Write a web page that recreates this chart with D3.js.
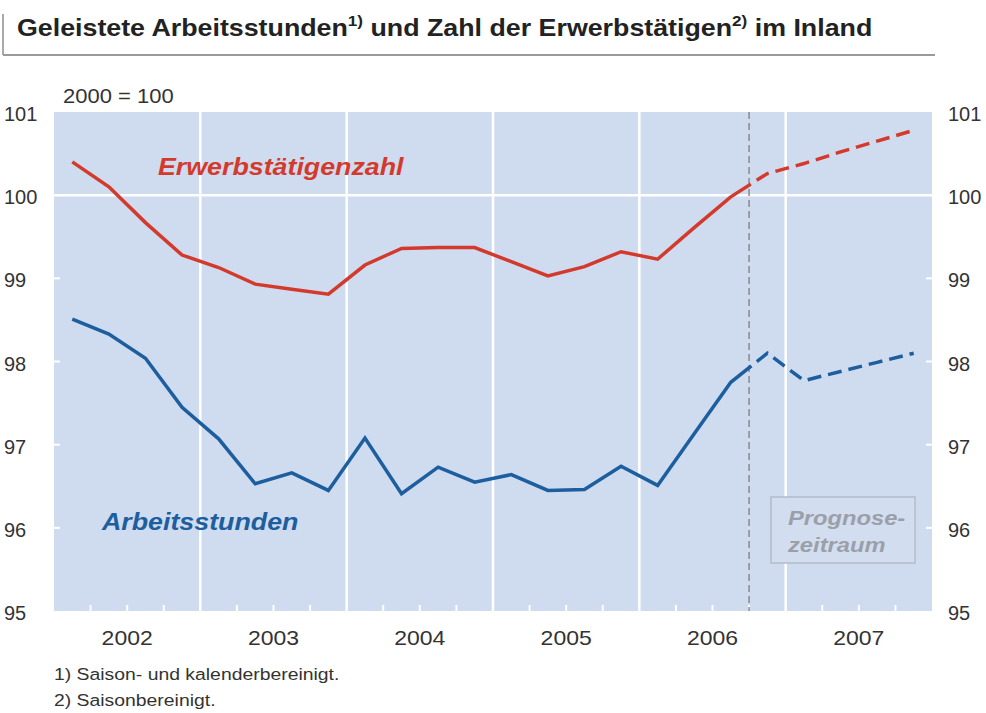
<!DOCTYPE html>
<html>
<head>
<meta charset="utf-8">
<script src="https://cdn.jsdelivr.net/npm/d3@7"></script>
<style>
  body { margin: 0; background: #fff; }
  svg text { font-family: "Liberation Sans", Arial, sans-serif; }
</style>
</head>
<body>
<div id="container"></div>
<script>
// quarterly data, 2000 = 100
const quarters = [
  '2002Q1', '2002Q2', '2002Q3', '2002Q4',
  '2003Q1', '2003Q2', '2003Q3', '2003Q4',
  '2004Q1', '2004Q2', '2004Q3', '2004Q4',
  '2005Q1', '2005Q2', '2005Q3', '2005Q4',
  '2006Q1', '2006Q2', '2006Q3', '2006Q4',
  '2007Q1', '2007Q2', '2007Q3', '2007Q4'
];
const yearLabels = ['2002', '2003', '2004', '2005', '2006', '2007'];
const erwerbstaetige = [
  100.40, 100.10, 99.67, 99.28,
  99.13, 98.93, 98.87, 98.81,
  99.16, 99.36, 99.37, 99.37,
  99.20, 99.03, 99.14, 99.32,
  99.23, 99.61, 99.98, 100.26,
  100.38, 100.52, 100.65, 100.78
];
const arbeitsstunden = [
  98.51, 98.33, 98.04, 97.45,
  97.07, 96.53, 96.66, 96.45,
  97.08, 96.41, 96.73, 96.55,
  96.64, 96.45, 96.46, 96.74,
  96.51, 97.13, 97.75, 98.10,
  97.77, 97.88, 97.99, 98.10
];
const yTicks = [95, 96, 97, 98, 99, 100, 101];
const forecastStart = '2006Q4';

const width = 986;
const height = 713;
const plot = { left: 54, right: 932, top: 112, bottom: 611 };
const stretch = 1.15; // the original lettering is a bit wider than Arial

const svg = d3.select('#container').append('svg')
  .attr('width', width)
  .attr('height', height);

// text helper: horizontally stretched label
function label(x, y, txt, size, opts = {}) {
  return svg.append('text')
    .attr('transform', `translate(${x},${y}) scale(${opts.sx || stretch},1)`)
    .attr('font-size', size)
    .attr('font-weight', opts.weight || 'normal')
    .attr('font-style', opts.style || 'normal')
    .attr('text-anchor', opts.anchor || 'start')
    .attr('fill', opts.fill || '#333')
    .text(txt);
}

// title with frame lines
svg.append('line')
  .attr('x1', 3).attr('x2', 3).attr('y1', 14).attr('y2', 55)
  .attr('stroke', '#8c8c8c').attr('stroke-width', 1.5);
svg.append('line')
  .attr('x1', 3).attr('x2', 935).attr('y1', 55).attr('y2', 55)
  .attr('stroke', '#9a9a9a').attr('stroke-width', 2);

const title = label(17, 36, null, 23.5, { weight: 'bold', fill: '#222', sx: 1.14 });
title.append('tspan').text('Geleistete Arbeitsstunden');
title.append('tspan').attr('font-size', 15).attr('dy', -10).text('1)');
title.append('tspan').attr('dy', 10).text(' und Zahl der Erwerbstätigen');
title.append('tspan').attr('font-size', 15).attr('dy', -10).text('2)');
title.append('tspan').attr('dy', 10).text(' im Inland');

// scales
const x = d3.scaleBand()
  .domain(quarters)
  .range([plot.left, plot.right]);
const y = d3.scaleLinear()
  .domain([95, 101])
  .range([plot.bottom, plot.top]);
const cx = q => x(q) + x.bandwidth() / 2;

// background
svg.append('rect')
  .attr('x', plot.left).attr('y', plot.top)
  .attr('width', plot.right - plot.left).attr('height', plot.bottom - plot.top)
  .attr('fill', '#cfdbef');

// year separators
svg.selectAll('.yearline')
  .data(quarters.filter((q, i) => i > 0 && q.endsWith('Q1')))
  .enter().append('line')
  .attr('x1', d => x(d)).attr('x2', d => x(d))
  .attr('y1', plot.top).attr('y2', plot.bottom)
  .attr('stroke', '#fff').attr('stroke-width', 2.5);

// quarter ticks at bottom
svg.selectAll('.qtick')
  .data(quarters.filter(q => !q.endsWith('Q1')))
  .enter().append('line')
  .attr('x1', d => x(d)).attr('x2', d => x(d))
  .attr('y1', plot.bottom - 6).attr('y2', plot.bottom)
  .attr('stroke', '#fff').attr('stroke-width', 2);

// 100 reference line
svg.append('line')
  .attr('x1', plot.left).attr('x2', plot.right)
  .attr('y1', y(100)).attr('y2', y(100))
  .attr('stroke', '#fff').attr('stroke-width', 2.5);

// y ticks inside, both sides
svg.selectAll('.ltick')
  .data(yTicks.slice(1, -1))
  .enter().append('line')
  .attr('x1', plot.left).attr('x2', plot.left + 6)
  .attr('y1', d => y(d)).attr('y2', d => y(d))
  .attr('stroke', '#fff').attr('stroke-width', 2);
svg.selectAll('.rtick')
  .data(yTicks.slice(1, -1))
  .enter().append('line')
  .attr('x1', plot.right - 6).attr('x2', plot.right)
  .attr('y1', d => y(d)).attr('y2', d => y(d))
  .attr('stroke', '#fff').attr('stroke-width', 2);

// y labels, both sides
yTicks.forEach(d => {
  label(4, y(d) + 9, d, 20, { sx: 1 });
  label(948, y(d) + 9, d, 20, { sx: 1 });
});

label(63, 103, '2000 = 100', 20, { sx: 1.1 });

// x labels centred on each year
yearLabels.forEach(d => {
  const mid = (x(d + 'Q1') + x(d + 'Q4') + x.bandwidth()) / 2;
  label(mid, 645, d, 20, { anchor: 'middle' });
});

// forecast divider
const fx = x(forecastStart);
svg.append('line')
  .attr('x1', fx).attr('x2', fx)
  .attr('y1', plot.top).attr('y2', plot.bottom)
  .attr('stroke', '#8a8a8a').attr('stroke-width', 1.5)
  .attr('stroke-dasharray', '7,4');

// forecast label box
svg.append('rect')
  .attr('x', 771).attr('y', 497).attr('width', 144).attr('height', 66)
  .attr('fill', '#d2ddf0').attr('stroke', '#b3bccb').attr('stroke-width', 1.5);
label(788, 525, 'Prognose-', 21, { weight: 'bold', style: 'italic', fill: '#9ba0a8', sx: 1.13 });
label(788, 552, 'zeitraum', 21, { weight: 'bold', style: 'italic', fill: '#9ba0a8', sx: 1.13 });

// clip regions: actual vs forecast
const defs = svg.append('defs');
defs.append('clipPath').attr('id', 'clip-actual')
  .append('rect').attr('x', 0).attr('y', 0).attr('width', fx).attr('height', height);
defs.append('clipPath').attr('id', 'clip-forecast')
  .append('rect').attr('x', fx).attr('y', 0).attr('width', width - fx).attr('height', height);

const line = d3.line()
  .x((d, i) => cx(quarters[i]))
  .y(d => y(d));

const series = [
  { values: erwerbstaetige, color: '#d43a2c' },
  { values: arbeitsstunden, color: '#1d5e9e' }
];

series.forEach(s => {
  svg.append('path')
    .attr('d', line(s.values))
    .attr('fill', 'none')
    .attr('stroke', s.color)
    .attr('stroke-width', 3.5)
    .attr('clip-path', 'url(#clip-actual)');
  svg.append('path')
    .attr('d', line(s.values))
    .attr('fill', 'none')
    .attr('stroke', s.color)
    .attr('stroke-width', 3.5)
    .attr('stroke-dasharray', '14,7')
    .attr('clip-path', 'url(#clip-forecast)');
});

// series labels
label(158, 175, 'Erwerbstätigenzahl', 23.5, { weight: 'bold', style: 'italic', fill: '#d43a2c', sx: 1.14 });
label(102, 530, 'Arbeitsstunden', 23.5, { weight: 'bold', style: 'italic', fill: '#1d5e9e', sx: 1.14 });

// footnotes
label(54, 680, '1) Saison- und kalenderbereinigt.', 17, { sx: 1.14 });
label(54, 706, '2) Saisonbereinigt.', 17, { sx: 1.14 });
</script>
</body>
</html>
